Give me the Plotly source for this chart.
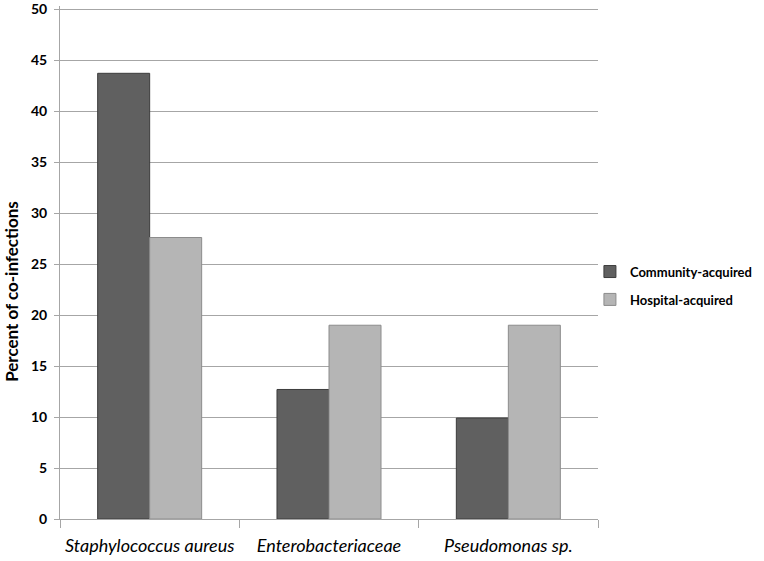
import plotly.graph_objects as go

categories = ["Staphylococcus aureus", "Enterobacteriaceae", "Pseudomonas sp."]
community = [43.7, 12.7, 9.9]
hospital = [27.6, 19.0, 19.0]
y_ticks = [0, 5, 10, 15, 20, 25, 30, 35, 40, 45, 50]

cat_labels = ["<i>" + c + "</i>" for c in categories]

fig = go.Figure()
fig.add_trace(go.Bar(
    x=cat_labels, y=community, name="Community-acquired", legendgroup="c",
    marker=dict(color="#606060", line=dict(color="#3c3c3c", width=1)),
))
fig.add_trace(go.Bar(
    x=cat_labels, y=hospital, name="Hospital-acquired", legendgroup="h",
    marker=dict(color="#b5b5b5", line=dict(color="#8c8c8c", width=1)),
))

fig.update_layout(
    width=764, height=561,
    margin=dict(l=60, r=166, t=6, b=42, autoexpand=False),
    paper_bgcolor="white", plot_bgcolor="white",
    barmode="group", bargap=0.42, bargroupgap=0,
    font=dict(family="Lato, Open Sans, sans-serif", color="#000000"),
    showlegend=True,
    legend=dict(x=0.985, y=0.455, xanchor="left", yanchor="middle",
                font=dict(size=13, weight="bold"), itemwidth=30, tracegroupgap=8,
                bgcolor="rgba(0,0,0,0)"),
    annotations=[dict(
        text="Percent of co-infections", textangle=-90,
        xref="paper", yref="paper", x=-0.089, y=0.443,
        xanchor="center", yanchor="middle", showarrow=False,
        font=dict(size=17, weight="bold"),
    )],
)
fig.update_yaxes(
    range=[0, 50.3], tickvals=y_ticks, ticktext=[str(v) for v in y_ticks],
    showgrid=True, gridcolor="#a6a6a6", gridwidth=1,
    showline=True, linecolor="#a6a6a6", linewidth=1,
    ticks="outside", ticklen=5, tickcolor="#a6a6a6",
    tickfont=dict(size=14, weight="bold"), zeroline=False, automargin=False,
    ticklabelstandoff=4, ticklabeloverflow="allow",
)
fig.update_xaxes(
    showline=True, linecolor="#a6a6a6", linewidth=1,
    ticks="outside", tickson="boundaries", ticklen=8, tickcolor="#a6a6a6",
    tickfont=dict(size=18), ticklabelstandoff=10, automargin=False,
    ticklabeloverflow="allow",
)

fig.write_html("out.html", config={"displayModeBar": False},
               post_script="document.body.style.margin='0';")
